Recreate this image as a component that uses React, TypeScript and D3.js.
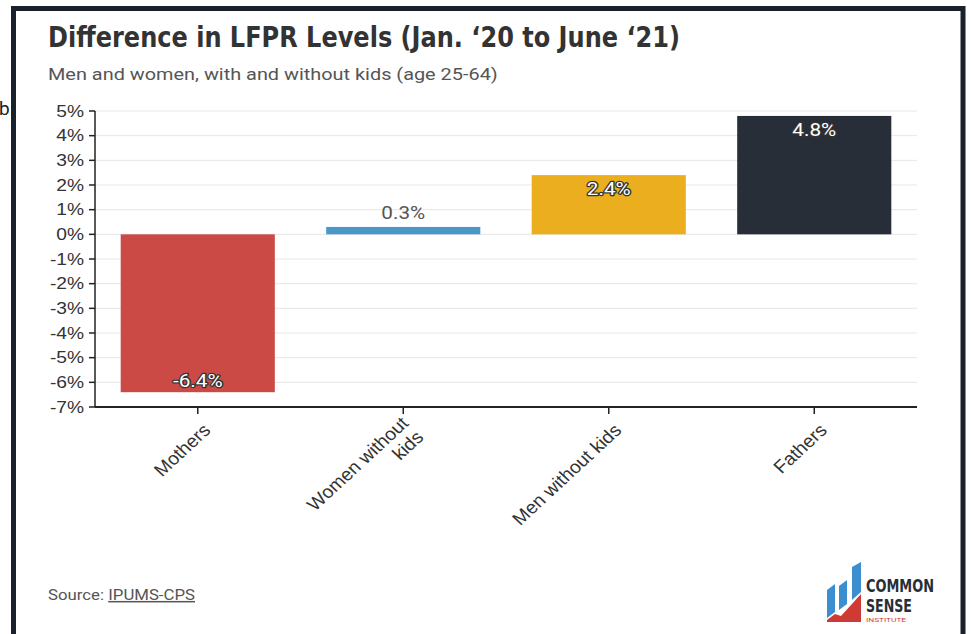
import React from 'react';
import * as d3 from 'd3';

const categories = ['Mothers', 'Women without kids', 'Men without kids', 'Fathers'];
const categoryLines = [['Mothers'], ['Women without', 'kids'], ['Men without kids'], ['Fathers']];
const values = [-6.4, 0.3, 2.4, 4.8];
const barColors = ['#cc4a45', '#4b97c8', '#ebae1f', '#272e38'];
const yTicks = [5, 4, 3, 2, 1, 0, -1, -2, -3, -4, -5, -6, -7];

const W = 971;
const H = 634;
const margin = { top: 111, right: 54, bottom: 227, left: 95 };
const AXIS_FONT = "'Liberation Sans', Arial, sans-serif";

// the source picture is stretched sideways, so text gets a horizontal scale
const T = ({ x, y, sx = 1.2, children, ...rest }: any) => (
  <text transform={`translate(${x},${y}) scale(${sx},1)`} {...rest}>{children}</text>
);

export default function App() {
  const x = d3.scaleBand<string>()
    .domain(categories)
    .range([margin.left, W - margin.right])
    .paddingInner(0.25)
    .paddingOuter(0.125);
  const y = d3.scaleLinear().domain([-7, 5]).range([H - margin.bottom, margin.top]);
  const fmt = (v: number) => `${v}%`;

  return (
    <svg width={W} height={H} style={{ position: 'absolute', left: 0, top: 0, background: '#fff' }}
      fontFamily="Roboto, sans-serif">
      <rect x={0} y={0} width={W} height={H} fill="#fff" />
      {/* frame */}
      <rect x={13.5} y={8.5} width={949.5} height={H + 20} fill="none" stroke="#19212a" strokeWidth={5} />
      <text x={-1} y={115} fontSize={19} fill="#222">b</text>

      <text x={48} y={47} fontSize={29} fontWeight={700} fill="#333"
        fontFamily="'DejaVu Sans Condensed', 'Roboto', sans-serif"
        textLength={632} lengthAdjust="spacingAndGlyphs">
        Difference in LFPR Levels (Jan. ‘20 to June ‘21)
      </text>
      <T x={48} y={80} sx={1.17} fontSize={17} fill="#555">Men and women, with and without kids (age 25-64)</T>

      {/* grid */}
      {yTicks.map(t => (
        <line key={'g' + t} x1={margin.left} x2={917} y1={y(t)} y2={y(t)} stroke="#e6e6e6" strokeWidth={1} />
      ))}

      {/* bars */}
      {categories.map((c, i) => {
        const v = values[i];
        return (
          <rect key={c} x={x(c)} width={x.bandwidth()}
            y={Math.min(y(v), y(0))} height={Math.abs(y(v) - y(0))} fill={barColors[i]} />
        );
      })}

      {/* bar labels */}
      {categories.map((c, i) => {
        const v = values[i];
        const cx = (x(c) as number) + x.bandwidth() / 2;
        const h = Math.abs(y(v) - y(0));
        if (h < 25) {
          return (
            <T key={'l' + c} x={cx} y={y(v) - 8} sx={1.15} textAnchor="middle" fontSize={18} fill="#555">{fmt(v)}</T>
          );
        }
        const ly = v >= 0 ? y(v) + 20 : y(v) - 5;
        return (
          <T key={'l' + c} x={cx} y={ly} sx={1.15} textAnchor="middle" fontSize={18} fill="#fff"
            stroke="#333" strokeWidth={2.5} paintOrder="stroke" strokeLinejoin="round">{fmt(v)}</T>
        );
      })}

      {/* y axis */}
      <line x1={margin.left} x2={margin.left} y1={y(5)} y2={y(-7)} stroke="#222" strokeWidth={1.5} />
      {yTicks.map(t => (
        <g key={'y' + t} transform={`translate(${margin.left},${y(t)})`}>
          <line x1={-6} x2={0} stroke="#222" strokeWidth={1.5} />
          <T x={-11} y={0} dy="0.35em" textAnchor="end" fontSize={16} fill="#333"
            fontFamily={AXIS_FONT}>{fmt(t)}</T>
        </g>
      ))}

      {/* x axis */}
      <line x1={margin.left} x2={917} y1={y(-7)} y2={y(-7)} stroke="#222" strokeWidth={2} />
      {categories.map((c, i) => {
        const cx = (x(c) as number) + x.bandwidth() / 2;
        const lines = categoryLines[i];
        return (
          <g key={'x' + c}>
            <line x1={cx} x2={cx} y1={y(-7)} y2={y(-7) + 7} stroke="#222" strokeWidth={1.5} />
            <g transform={`translate(${cx + 9},${y(-7) + 20}) scale(1.08,1) rotate(-45)`}>
              <text textAnchor="end" fontSize={18} fill="#333" fontFamily={AXIS_FONT}>
                {lines.map((ln, k) => (
                  <tspan key={k} x={0} dy={k === 0 ? `${0.35 - (lines.length - 1) * 0.55}em` : '1.1em'}>{ln}</tspan>
                ))}
              </text>
            </g>
          </g>
        );
      })}

      {/* source */}
      <T x={48} y={600} sx={1.12} fontSize={15} fill="#555">
        Source: <tspan textDecoration="underline">IPUMS-CPS</tspan>
      </T>

      {/* logo */}
      <g transform="translate(827,562)">
        <polygon points="0,28 8,22 8,50 0,56" fill="#3b8fd0" />
        <polygon points="12,24 20,18 20,42 12,48" fill="#3b8fd0" />
        <polygon points="25,5 34,0 34,30 25,38" fill="#3b8fd0" />
        <polygon points="0,58 8,52 14,54 34,32 34,60 0,60" fill="#d03a35" />
        <text x={39} y={30} fontSize={17} fontWeight={700} fill="#272e38"
          fontFamily="'DejaVu Sans Condensed', Roboto, sans-serif" textLength={68} lengthAdjust="spacingAndGlyphs">COMMON</text>
        <text x={39} y={50} fontSize={17} fontWeight={700} fill="#272e38"
          fontFamily="'DejaVu Sans Condensed', Roboto, sans-serif" textLength={46} lengthAdjust="spacingAndGlyphs">SENSE</text>
        <text x={39} y={60} fontSize={5} fill="#d03a35" textLength={40} lengthAdjust="spacingAndGlyphs">INSTITUTE</text>
      </g>
    </svg>
  );
}
